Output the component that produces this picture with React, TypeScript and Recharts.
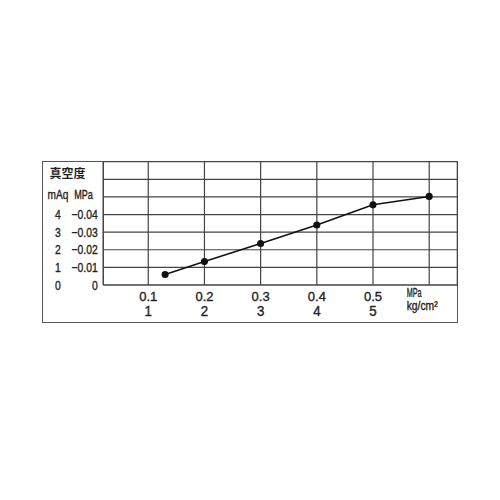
import React from "react"
import { LineChart, Line, XAxis, YAxis, CartesianGrid } from "recharts"

// pressure (MPa) vs vacuum (MPa)
const pressureMPa = [0.13, 0.2, 0.3, 0.4, 0.5, 0.6]
const vacuumMPa = [0.006, 0.0133, 0.0236, 0.0341, 0.0455, 0.0503]

const xTicks = [0.1, 0.2, 0.3, 0.4, 0.5, 0.6]
const xTopLabels = ["0.1", "0.2", "0.3", "0.4", "0.5", "MPa"]
const xBottomLabels = ["1", "2", "3", "4", "5", "kg/cm²"]

const yTicks = [0, 0.01, 0.02, 0.03, 0.04, 0.05, 0.06, 0.07]
const mAqLabels = ["0", "1", "2", "3", "4"]
const mpaLabels = ["0", "−0.01", "−0.02", "−0.03", "−0.04"]

const data = pressureMPa.map((p, i) => ({ p, v: vacuumMPa[i] }))

const font = "'Liberation Sans', Arial, sans-serif"
const ink = "#222"

// narrow text: squeeze horizontally around the anchor point
function Narrow({ x, y, sx = 0.8, size = 13, anchor = "middle", children }: any) {
  return (
    <text
      transform={`translate(${x},${y}) scale(${sx},1)`}
      textAnchor={anchor}
      fontFamily={font}
      fontSize={size}
      fill={ink}
      stroke={ink}
      strokeWidth={0.35}
    >
      {children}
    </text>
  )
}

function YTick(props: any) {
  const { y, index } = props
  if (index < mAqLabels.length) {
    return (
      <g>
        <Narrow x={58} y={y + 4.6}>{mAqLabels[index]}</Narrow>
        <Narrow x={97.7} y={y + 4.6} anchor="end">{mpaLabels[index]}</Narrow>
      </g>
    )
  }
  if (index === 5) {
    return (
      <g>
        <Narrow x={58} y={y + 2.3} size={13} sx={0.78}>mAq</Narrow>
        <Narrow x={83.5} y={y + 2.3} size={13} sx={0.7}>MPa</Narrow>
      </g>
    )
  }
  if (index === 6) {
    return (
      <text x={67.5} y={y - 1.3} textAnchor="middle" fontFamily="'Noto Sans CJK JP', sans-serif" fontSize={12} fontWeight="bold" fill={ink}>
        真空度
      </text>
    )
  }
  return null
}

function XTick(props: any) {
  const { x, index } = props
  if (index === xTicks.length - 1) {
    return (
      <g>
        <Narrow x={406.7} y={296.7} anchor="start" size={12} sx={0.6}>{xTopLabels[index]}</Narrow>
        <Narrow x={406.7} y={309.5} anchor="start" size={12} sx={0.86}>{xBottomLabels[index]}</Narrow>
      </g>
    )
  }
  return (
    <g>
      <Narrow x={x} y={301} sx={1}>{xTopLabels[index]}</Narrow>
      <Narrow x={x} y={316} size={14} sx={0.95}>{xBottomLabels[index]}</Narrow>
    </g>
  )
}

export default function App() {
  return (
    <div style={{ position: "absolute", left: 0, top: 0, width: 500, height: 500, background: "#fff" }}>
      <div
        style={{
          position: "absolute",
          left: 42,
          top: 161,
          width: 414,
          height: 160,
          border: "1.5px solid #555",
        }}
      />
      <div style={{ position: "absolute", left: 0, top: 0 }}>
        <LineChart width={500} height={500} data={data} margin={{ top: 161.7, right: 42.7, bottom: 185, left: 43.3 }}>
          <CartesianGrid stroke="#444" strokeWidth={1.2} />
          <XAxis
            dataKey="p"
            type="number"
            domain={[0.02, 0.65]}
            ticks={xTicks}
            height={30}
            tick={<XTick />}
            tickLine={false}
            axisLine={{ stroke: "#444", strokeWidth: 1.2 }}
            interval={0}
          />
          <YAxis
            type="number"
            domain={[0, 0.07]}
            ticks={yTicks}
            width={60}
            tick={<YTick />}
            tickLine={false}
            axisLine={{ stroke: "#444", strokeWidth: 1.2 }}
            interval={0}
          />
          <Line
            type="linear"
            dataKey="v"
            stroke="#111"
            strokeWidth={1.5}
            dot={{ r: 2.8, fill: "#111", stroke: "#111" }}
            isAnimationActive={false}
          />
        </LineChart>
      </div>
    </div>
  )
}
